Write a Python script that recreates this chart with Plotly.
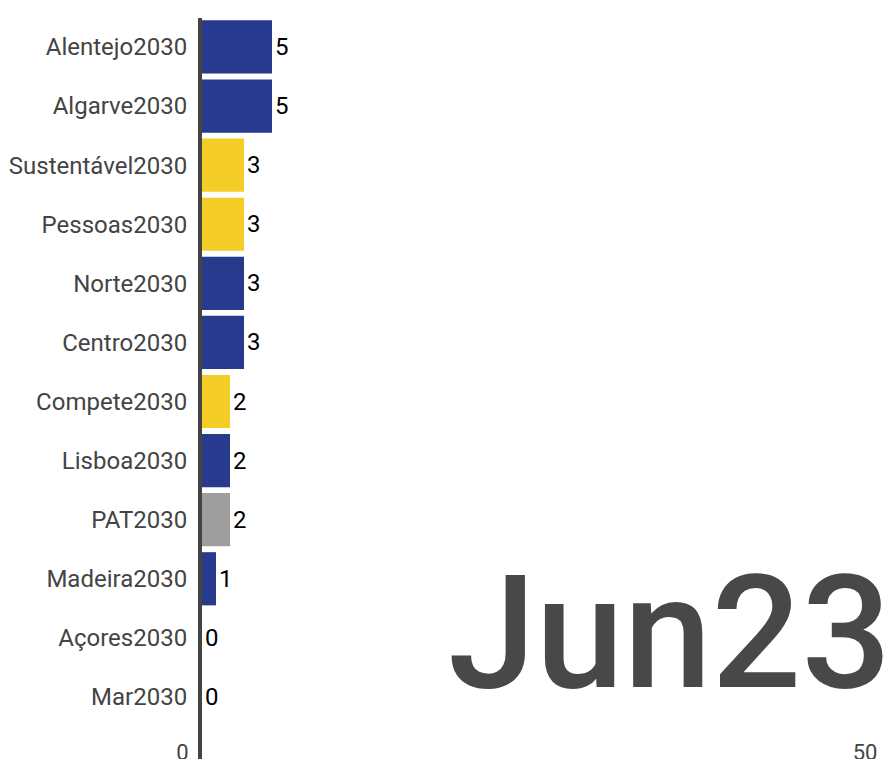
import plotly.graph_objects as go

# ---- data ----
categories = ["Alentejo2030", "Algarve2030", "Sustentável2030", "Pessoas2030",
              "Norte2030", "Centro2030", "Compete2030", "Lisboa2030",
              "PAT2030", "Madeira2030", "Açores2030", "Mar2030"]
values = [5, 5, 3, 3, 3, 3, 2, 2, 2, 1, 0, 0]
groups = ["Regional", "Regional", "Temático", "Temático",
          "Regional", "Regional", "Temático", "Regional",
          "Assistência Técnica", "Regional", "Regional", "Temático"]
period_label = "Jun23"
axis_tick_values = [0, 50]
axis_tick_labels = ["0", "50"]

group_colors = {"Regional": "#283a8e", "Temático": "#f4cd26", "Assistência Técnica": "#9e9e9e"}
bar_colors = [group_colors[g] for g in groups]

OFF = 8  # page body margin
W, H = 891 - OFF, 759 - OFF
FONT = "Roboto"


def px_x(x):
    return (x - OFF) / W


def px_y(y):
    return 1 - (y - OFF) / H


fig = go.Figure()
fig.add_trace(go.Bar(
    x=values, y=categories, orientation="h",
    marker=dict(color=bar_colors, line=dict(width=0)),
    text=[str(v) for v in values], textposition="outside",
    outsidetextfont=dict(family=FONT, size=24, color="#000000"),
    constraintext="none", cliponaxis=False,
    hoverinfo="skip", showlegend=False,
))
# invisible trace so that the secondary axis (scale ticks) is drawn
fig.add_trace(go.Scatter(
    x=axis_tick_values, y=[categories[0], categories[0]], xaxis="x2",
    mode="markers", marker=dict(opacity=0), hoverinfo="skip", showlegend=False,
))

fig.update_layout(
    width=W, height=H,
    margin=dict(l=0, r=0, t=0, b=0, autoexpand=False),
    paper_bgcolor="white", plot_bgcolor="rgba(0,0,0,0)",
    font=dict(family=FONT, color="#444444"),
    bargap=0.1,
    xaxis=dict(domain=[px_x(202), px_x(888.5)], range=[0, 49.03],
               showticklabels=False, showgrid=False, zeroline=False,
               showline=False, ticks="", automargin=False),
    xaxis2=dict(domain=[px_x(182.5), px_x(865)], range=[0, 50],
                anchor="free", position=px_y(737), side="bottom",
                tickvals=axis_tick_values, ticktext=axis_tick_labels,
                tickfont=dict(family=FONT, size=22, color="#444444"),
                showgrid=False, zeroline=False, showline=False, ticks="",
                automargin=False),
    yaxis=dict(domain=[0, px_y(18)], range=[12.05, -0.49],
               categoryorder="array", categoryarray=categories,
               tickfont=dict(family=FONT, size=24, color="#444444"),
               showgrid=False, zeroline=False, showline=True, linewidth=4,
               linecolor="#444444", ticks="", ticklabelstandoff=6,
               automargin=False),
    shapes=[dict(type="line", xref="paper", yref="paper",
                 x0=px_x(889), x1=px_x(889),
                 y0=0, y1=px_y(18), layer="above",
                 line=dict(color="#999999", width=2))],
    annotations=[dict(text=period_label, xref="paper", yref="paper",
                      x=px_x(893), y=px_y(633), xanchor="right", yanchor="middle",
                      showarrow=False,
                      font=dict(family=FONT, size=158, color="#484848", weight=500))],
)

fig.write_html("out.html")
